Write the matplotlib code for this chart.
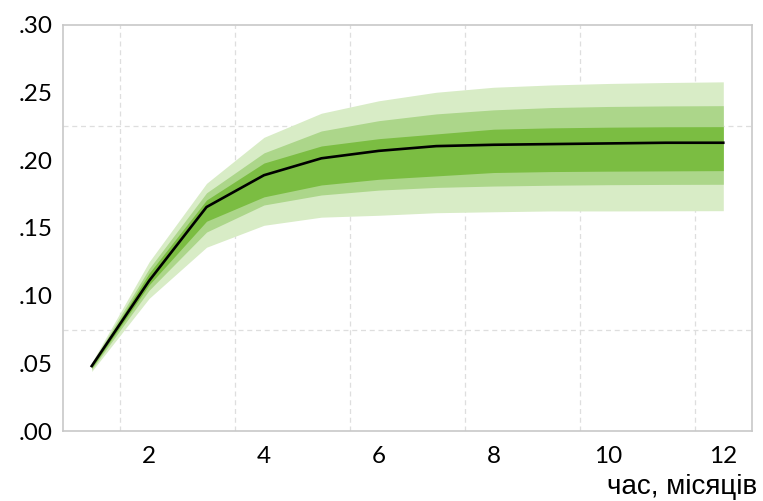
import matplotlib
matplotlib.use("Agg")
import matplotlib.pyplot as plt
import numpy as np

months = [1, 2, 3, 4, 5, 6, 7, 8, 9, 10, 11, 12]
median = [0.048, 0.111, 0.1655, 0.189, 0.2015, 0.207, 0.2105, 0.2115, 0.212, 0.2125, 0.213, 0.213]
inner_hi = [0.049, 0.1166, 0.1707, 0.198, 0.2106, 0.216, 0.2195, 0.223, 0.224, 0.2245, 0.2248, 0.2249]
inner_lo = [0.0465, 0.108, 0.155, 0.173, 0.1818, 0.186, 0.1885, 0.191, 0.1917, 0.192, 0.1922, 0.1924]
mid_hi = [0.0498, 0.120, 0.176, 0.2055, 0.2217, 0.2293, 0.2343, 0.2373, 0.239, 0.2398, 0.2402, 0.2404]
mid_lo = [0.0455, 0.104, 0.147, 0.167, 0.1744, 0.178, 0.180, 0.181, 0.1816, 0.182, 0.1822, 0.1823]
outer_hi = [0.0505, 0.125, 0.183, 0.217, 0.2348, 0.244, 0.2503, 0.254, 0.2557, 0.2568, 0.2575, 0.258]
outer_lo = [0.044, 0.098, 0.1358, 0.152, 0.158, 0.1594, 0.1613, 0.162, 0.1626, 0.1626, 0.1627, 0.1628]

x_ticks = [2, 4, 6, 8, 10, 12]
y_ticks = [0.0, 0.05, 0.10, 0.15, 0.20, 0.25, 0.30]
y_labels = [".00", ".05", ".10", ".15", ".20", ".25", ".30"]
x_grid = [1.5, 3.5, 5.5, 7.5, 9.5, 11.5]
y_grid = [0.075, 0.15, 0.225]
xlabel = "час, місяців"

fig = plt.figure(figsize=(7.63, 5.01), dpi=100)
ax = fig.add_axes([63/763, 70/501, (752-63)/763, (431-25)/501])

ax.fill_between(months, outer_lo, outer_hi, color="#d8ecc6", lw=0, zorder=2)
ax.fill_between(months, mid_lo, mid_hi, color="#acd68a", lw=0, zorder=3)
ax.fill_between(months, inner_lo, inner_hi, color="#7bbd42", lw=0, zorder=4)
ax.plot(months, median, color="black", lw=1.9, zorder=5)

ax.set_xlim(0.5, 12.5)
ax.set_ylim(0, 0.30)

ax.set_xticks(x_ticks)
ax.set_xticklabels([str(v) for v in x_ticks])
ax.set_yticks(y_ticks)
ax.set_yticklabels(y_labels)
ax.set_xticks(x_grid, minor=True)
ax.set_yticks(y_grid, minor=True)
ax.grid(False, which="major")
ax.grid(True, which="minor", color="#dedede", ls=(0, (4, 3)), lw=0.9, zorder=0)
ax.tick_params(which="both", length=0)
ax.tick_params(axis="y", pad=7.5, labelsize=17.5)
ax.tick_params(axis="x", pad=10.5, labelsize=17.5)
for lab in ax.get_xticklabels() + ax.get_yticklabels():
    lab.set_fontfamily("Lato")
for s in ax.spines.values():
    s.set_color("#c8c8c8")
    s.set_linewidth(1.2)

fig.text(757/763, 1 - 494/501, xlabel, ha="right", va="baseline", fontsize=20,
         family="Liberation Sans")

fig.savefig("out.png", dpi=100)
